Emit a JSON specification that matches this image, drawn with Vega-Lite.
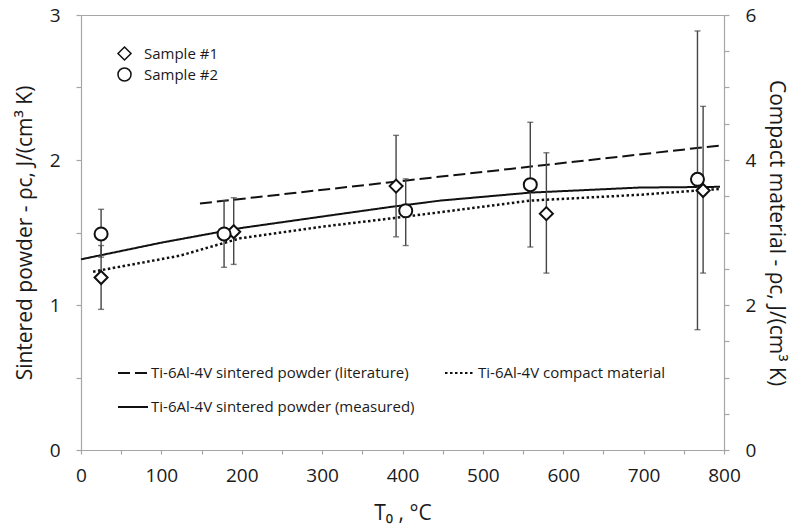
{
  "$schema": "https://vega.github.io/schema/vega-lite/v6.json",
  "width": 643,
  "height": 435,
  "autosize": {"type": "none"},
  "padding": {"left": 81, "top": 15, "right": 68, "bottom": 79},
  "background": "white",
  "config": {
    "view": {"stroke": "#a6a6a6", "strokeWidth": 1},
    "font": "Open Sans",
    "axis": {
      "grid": false,
      "domainColor": "#a6a6a6",
      "domainWidth": 1.2,
      "tickColor": "#a6a6a6",
      "tickWidth": 1.2,
      "labelFont": "Open Sans",
      "labelFontSize": 19,
      "labelColor": "#1a1a1a",
      "titleFont": "Open Sans",
      "titleFontSize": 21,
      "titleFontWeight": "normal",
      "titleColor": "#1a1a1a",
      "labelOverlap": false,
      "labelFlush": false
    },
    "legend": {
      "labelFont": "Open Sans",
      "labelFontSize": 15,
      "labelColor": "#1a1a1a",
      "labelLimit": 0,
      "padding": 0
    }
  },
  "datasets": {
    "points": [
      {"T": 25, "v": 1.19, "lo": 0.97, "hi": 1.41, "sample": "Sample #1"},
      {"T": 190, "v": 1.505, "lo": 1.28, "hi": 1.74, "sample": "Sample #1"},
      {"T": 392, "v": 1.82, "lo": 1.47, "hi": 2.17, "sample": "Sample #1"},
      {"T": 579, "v": 1.63, "lo": 1.22, "hi": 2.05, "sample": "Sample #1"},
      {"T": 774, "v": 1.79, "lo": 1.22, "hi": 2.37, "sample": "Sample #1"},
      {"T": 25, "v": 1.49, "lo": 1.33, "hi": 1.66, "sample": "Sample #2"},
      {"T": 178, "v": 1.49, "lo": 1.26, "hi": 1.72, "sample": "Sample #2"},
      {"T": 404, "v": 1.65, "lo": 1.41, "hi": 1.87, "sample": "Sample #2"},
      {"T": 559, "v": 1.83, "lo": 1.40, "hi": 2.26, "sample": "Sample #2"},
      {"T": 767, "v": 1.867, "lo": 0.83, "hi": 2.89, "sample": "Sample #2"}
    ],
    "powder": [
      {"T": 148, "v": 1.70, "series": "Ti-6Al-4V sintered powder (literature)"},
      {"T": 795, "v": 2.10, "series": "Ti-6Al-4V sintered powder (literature)"},
      {"T": 0, "v": 1.315, "series": "Ti-6Al-4V sintered powder (measured)"},
      {"T": 100, "v": 1.43, "series": "Ti-6Al-4V sintered powder (measured)"},
      {"T": 198, "v": 1.53, "series": "Ti-6Al-4V sintered powder (measured)"},
      {"T": 300, "v": 1.61, "series": "Ti-6Al-4V sintered powder (measured)"},
      {"T": 390, "v": 1.68, "series": "Ti-6Al-4V sintered powder (measured)"},
      {"T": 447, "v": 1.72, "series": "Ti-6Al-4V sintered powder (measured)"},
      {"T": 559, "v": 1.775, "series": "Ti-6Al-4V sintered powder (measured)"},
      {"T": 695, "v": 1.81, "series": "Ti-6Al-4V sintered powder (measured)"},
      {"T": 795, "v": 1.815, "series": "Ti-6Al-4V sintered powder (measured)"}
    ],
    "compact": [
      {"T": 15, "rc": 2.46, "series": "Ti-6Al-4V compact material"},
      {"T": 123, "rc": 2.68, "series": "Ti-6Al-4V compact material"},
      {"T": 198, "rc": 2.92, "series": "Ti-6Al-4V compact material"},
      {"T": 300, "rc": 3.08, "series": "Ti-6Al-4V compact material"},
      {"T": 390, "rc": 3.20, "series": "Ti-6Al-4V compact material"},
      {"T": 447, "rc": 3.28, "series": "Ti-6Al-4V compact material"},
      {"T": 559, "rc": 3.44, "series": "Ti-6Al-4V compact material"},
      {"T": 695, "rc": 3.52, "series": "Ti-6Al-4V compact material"},
      {"T": 768, "rc": 3.58, "series": "Ti-6Al-4V compact material"},
      {"T": 795, "rc": 3.60, "series": "Ti-6Al-4V compact material"}
    ]
  },
  "layer": [
    {
      "data": {"name": "compact"},
      "mark": {"type": "line", "color": "#111", "strokeWidth": 2.5},
      "encoding": {
        "x": {
          "field": "T", "type": "quantitative",
          "scale": {"domain": [0, 800], "nice": false},
          "axis": {
            "title": "T₀ , °C",
            "values": [0, 25, 50, 75, 100, 125, 150, 175, 200, 225, 250, 275, 300, 325, 350, 375, 400, 425, 450, 475, 500, 525, 550, 575, 600, 625, 650, 675, 700, 725, 750, 775, 800],
            "labelExpr": "datum.value % 100 === 0 ? format(datum.value, 'd') : ''",
            "tickSize": 4,
            "labelPadding": 12,
            "titlePadding": 17
          }
        },
        "y": {
          "field": "rc", "type": "quantitative",
          "scale": {"domain": [0, 6], "nice": false},
          "axis": {
            "orient": "right",
            "title": "Compact material - ρc, J/(cm³ K)",
            "values": [0, 0.5, 1, 1.5, 2, 2.5, 3, 3.5, 4, 4.5, 5, 5.5, 6],
            "labelExpr": "datum.value % 2 === 0 ? format(datum.value, 'd') : ''",
            "tickSize": 5,
            "labelPadding": 16,
            "titlePadding": 10
          }
        },
        "strokeDash": {
          "field": "series", "type": "nominal",
          "scale": {
            "domain": ["Ti-6Al-4V sintered powder (literature)", "Ti-6Al-4V sintered powder (measured)", "Ti-6Al-4V compact material"],
            "range": [[12, 5], [1, 0], [2.5, 2.5]]
          },
          "legend": {
            "title": null,
            "orient": "none",
            "legendX": 36,
            "legendY": 342,
            "columns": 2,
            "columnPadding": 26,
            "rowPadding": 10,
            "symbolType": "stroke",
            "symbolSize": 900,
            "symbolStrokeWidth": 2,
            "symbolStrokeColor": "#111",
            "labelOffset": 2,
            "labelFontSize": 15,
            "labelLimit": 0
          }
        }
      }
    },
    {
      "layer": [
        {
          "data": {"name": "powder"},
          "mark": {"type": "line", "color": "#111", "strokeWidth": 2},
          "encoding": {
            "x": {
              "field": "T", "type": "quantitative",
              "scale": {"domain": [0, 800], "nice": false},
              "axis": {
                "title": "T₀ , °C",
                "values": [0, 25, 50, 75, 100, 125, 150, 175, 200, 225, 250, 275, 300, 325, 350, 375, 400, 425, 450, 475, 500, 525, 550, 575, 600, 625, 650, 675, 700, 725, 750, 775, 800],
                "labelExpr": "datum.value % 100 === 0 ? format(datum.value, 'd') : ''",
                "tickSize": 4,
                "labelPadding": 12,
                "titlePadding": 17
              }
            },
            "y": {
              "field": "v", "type": "quantitative",
              "scale": {"domain": [0, 3], "nice": false},
              "axis": {
                "orient": "left",
                "title": "Sintered powder - ρc, J/(cm³ K)",
                "values": [0, 0.25, 0.5, 0.75, 1, 1.25, 1.5, 1.75, 2, 2.25, 2.5, 2.75, 3],
                "labelExpr": "datum.value % 1 === 0 ? format(datum.value, 'd') : ''",
                "tickSize": 5,
                "labelPadding": 16,
                "titlePadding": 14
              }
            },
            "strokeDash": {
              "field": "series", "type": "nominal",
              "scale": {
                "domain": ["Ti-6Al-4V sintered powder (literature)", "Ti-6Al-4V sintered powder (measured)", "Ti-6Al-4V compact material"],
                "range": [[12, 5], [1, 0], [2.5, 2.5]]
              }
            }
          }
        },
        {
          "data": {"name": "points"},
          "mark": {"type": "rule", "color": "#444", "strokeWidth": 1.4},
          "encoding": {
            "x": {"field": "T", "type": "quantitative", "scale": {"domain": [0, 800], "nice": false}, "title": "T₀ , °C"},
            "y": {"field": "lo", "type": "quantitative", "title": "Sintered powder - ρc, J/(cm³ K)"},
            "y2": {"field": "hi"}
          }
        },
        {
          "data": {"name": "points"},
          "mark": {"type": "tick", "orient": "horizontal", "color": "#444", "size": 6, "thickness": 1.4},
          "encoding": {
            "x": {"field": "T", "type": "quantitative", "scale": {"domain": [0, 800], "nice": false}, "title": "T₀ , °C"},
            "y": {"field": "lo", "type": "quantitative", "title": "Sintered powder - ρc, J/(cm³ K)"}
          }
        },
        {
          "data": {"name": "points"},
          "mark": {"type": "tick", "orient": "horizontal", "color": "#444", "size": 6, "thickness": 1.4},
          "encoding": {
            "x": {"field": "T", "type": "quantitative", "scale": {"domain": [0, 800], "nice": false}, "title": "T₀ , °C"},
            "y": {"field": "hi", "type": "quantitative", "title": "Sintered powder - ρc, J/(cm³ K)"}
          }
        },
        {
          "data": {"name": "points"},
          "mark": {"type": "point", "filled": true, "color": "#111", "fill": "white", "fillOpacity": 1, "stroke": "#111", "strokeWidth": 2, "size": 170, "opacity": 1},
          "encoding": {
            "x": {"field": "T", "type": "quantitative", "scale": {"domain": [0, 800], "nice": false}, "title": "T₀ , °C"},
            "y": {"field": "v", "type": "quantitative", "title": "Sintered powder - ρc, J/(cm³ K)"},
            "shape": {
              "field": "sample", "type": "nominal",
              "scale": {"domain": ["Sample #1", "Sample #2"], "range": ["diamond", "circle"]},
              "legend": {
                "title": null,
                "orient": "none",
                "legendX": 36,
                "legendY": 31,
                "rowPadding": 0,
                "symbolSize": 170,
                "labelOffset": 12,
                "labelFontSize": 15,
                "encode": {
                  "symbols": {
                    "update": {
                      "fill": {"value": "white"},
                      "stroke": {"value": "#111"},
                      "strokeWidth": {"value": 2},
                      "size": {"value": 170},
                      "opacity": {"value": 1},
                      "fillOpacity": {"value": 1},
                      "strokeOpacity": {"value": 1}
                    }
                  }
                }
              }
            }
          }
        }
      ]
    }
  ],
  "resolve": {"scale": {"y": "independent"}}
}
